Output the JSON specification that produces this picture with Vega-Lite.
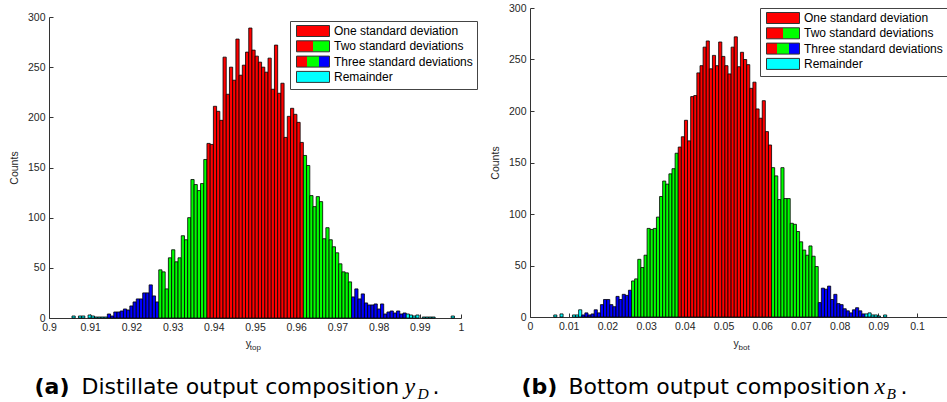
{
  "$schema": "https://vega.github.io/schema/vega-lite/v6.json",
  "background": "white",
  "padding": {"left": 9, "top": 3, "right": 0, "bottom": 0},
  "bounds": "flush",
  "spacing": 69,
  "config": {
    "view": {"stroke": null},
    "axis": {"grid": false, "domainColor": "#333333", "tickColor": "#333333", "labelColor": "#262626", "titleColor": "#262626", "labelFont": "Liberation Sans", "titleFont": "Liberation Sans", "labelFontSize": 10.5, "titleFontSize": 10.5, "titleFontWeight": "normal", "domainWidth": 1, "tickWidth": 1},
    "legend": {"title": null, "direction": "vertical", "fillColor": "white", "strokeColor": "#444444", "padding": 4, "symbolType": "M-3,-1H3V1H-3Z", "symbolSize": 121, "symbolOffset": 13, "symbolStrokeColor": "#333333", "symbolStrokeWidth": 1, "symbolOpacity": 1, "labelFont": "Liberation Sans", "labelFontSize": 12, "labelColor": "black", "labelOffset": 15, "labelLimit": 0, "rowPadding": -0.7}
  },
  "resolve": {"scale": {"x": "independent", "y": "independent", "color": "independent", "fill": "independent"}, "legend": {"color": "independent", "fill": "independent"}},
  "datasets": {
    "top": [
      {"lo":0.90546,"hi":0.90624,"count":2,"zone":"Remainder"},
      {"lo":0.90702,"hi":0.9078,"count":2,"zone":"Remainder"},
      {"lo":0.9078,"hi":0.90858,"count":2,"zone":"Remainder"},
      {"lo":0.90936,"hi":0.91014,"count":3,"zone":"Remainder"},
      {"lo":0.91014,"hi":0.91092,"count":2,"zone":"Remainder"},
      {"lo":0.91092,"hi":0.9117,"count":1,"zone":"Remainder"},
      {"lo":0.9117,"hi":0.91248,"count":1,"zone":"Remainder"},
      {"lo":0.91248,"hi":0.91326,"count":1,"zone":"Remainder"},
      {"lo":0.91326,"hi":0.91404,"count":1,"zone":"Remainder"},
      {"lo":0.91404,"hi":0.91482,"count":4,"zone":"Three standard deviations"},
      {"lo":0.91482,"hi":0.9156,"count":2,"zone":"Three standard deviations"},
      {"lo":0.9156,"hi":0.91638,"count":6,"zone":"Three standard deviations"},
      {"lo":0.91638,"hi":0.91716,"count":6,"zone":"Three standard deviations"},
      {"lo":0.91716,"hi":0.91794,"count":7,"zone":"Three standard deviations"},
      {"lo":0.91794,"hi":0.91872,"count":9,"zone":"Three standard deviations"},
      {"lo":0.91872,"hi":0.9195,"count":8,"zone":"Three standard deviations"},
      {"lo":0.9195,"hi":0.92028,"count":12,"zone":"Three standard deviations"},
      {"lo":0.92028,"hi":0.92106,"count":16,"zone":"Three standard deviations"},
      {"lo":0.92106,"hi":0.92184,"count":19,"zone":"Three standard deviations"},
      {"lo":0.92184,"hi":0.92262,"count":19,"zone":"Three standard deviations"},
      {"lo":0.92262,"hi":0.9234,"count":25,"zone":"Three standard deviations"},
      {"lo":0.9234,"hi":0.92418,"count":25,"zone":"Three standard deviations"},
      {"lo":0.92418,"hi":0.92496,"count":33,"zone":"Three standard deviations"},
      {"lo":0.92496,"hi":0.92574,"count":22,"zone":"Three standard deviations"},
      {"lo":0.92574,"hi":0.92652,"count":16,"zone":"Three standard deviations"},
      {"lo":0.92652,"hi":0.9273,"count":48,"zone":"Two standard deviations"},
      {"lo":0.9273,"hi":0.92808,"count":46,"zone":"Two standard deviations"},
      {"lo":0.92808,"hi":0.92886,"count":29,"zone":"Two standard deviations"},
      {"lo":0.92886,"hi":0.92964,"count":60,"zone":"Two standard deviations"},
      {"lo":0.92964,"hi":0.93042,"count":68,"zone":"Two standard deviations"},
      {"lo":0.93042,"hi":0.9312,"count":56,"zone":"Two standard deviations"},
      {"lo":0.9312,"hi":0.93198,"count":60,"zone":"Two standard deviations"},
      {"lo":0.93198,"hi":0.93276,"count":82,"zone":"Two standard deviations"},
      {"lo":0.93276,"hi":0.93354,"count":78,"zone":"Two standard deviations"},
      {"lo":0.93354,"hi":0.93432,"count":100,"zone":"Two standard deviations"},
      {"lo":0.93432,"hi":0.9351,"count":138,"zone":"Two standard deviations"},
      {"lo":0.9351,"hi":0.93588,"count":133,"zone":"Two standard deviations"},
      {"lo":0.93588,"hi":0.93666,"count":127,"zone":"Two standard deviations"},
      {"lo":0.93666,"hi":0.93744,"count":134,"zone":"Two standard deviations"},
      {"lo":0.93744,"hi":0.93822,"count":158,"zone":"Two standard deviations"},
      {"lo":0.93822,"hi":0.939,"count":174,"zone":"One standard deviation"},
      {"lo":0.939,"hi":0.93978,"count":173,"zone":"One standard deviation"},
      {"lo":0.93978,"hi":0.94056,"count":211,"zone":"One standard deviation"},
      {"lo":0.94056,"hi":0.94134,"count":206,"zone":"One standard deviation"},
      {"lo":0.94134,"hi":0.94212,"count":197,"zone":"One standard deviation"},
      {"lo":0.94212,"hi":0.9429,"count":260,"zone":"One standard deviation"},
      {"lo":0.9429,"hi":0.94368,"count":223,"zone":"One standard deviation"},
      {"lo":0.94368,"hi":0.94446,"count":250,"zone":"One standard deviation"},
      {"lo":0.94446,"hi":0.94524,"count":237,"zone":"One standard deviation"},
      {"lo":0.94524,"hi":0.94602,"count":278,"zone":"One standard deviation"},
      {"lo":0.94602,"hi":0.9468,"count":242,"zone":"One standard deviation"},
      {"lo":0.9468,"hi":0.94758,"count":252,"zone":"One standard deviation"},
      {"lo":0.94758,"hi":0.94836,"count":265,"zone":"One standard deviation"},
      {"lo":0.94836,"hi":0.94914,"count":289,"zone":"One standard deviation"},
      {"lo":0.94914,"hi":0.94992,"count":267,"zone":"One standard deviation"},
      {"lo":0.94992,"hi":0.9507,"count":261,"zone":"One standard deviation"},
      {"lo":0.9507,"hi":0.95148,"count":255,"zone":"One standard deviation"},
      {"lo":0.95148,"hi":0.95226,"count":250,"zone":"One standard deviation"},
      {"lo":0.95226,"hi":0.95304,"count":245,"zone":"One standard deviation"},
      {"lo":0.95304,"hi":0.95382,"count":259,"zone":"One standard deviation"},
      {"lo":0.95382,"hi":0.9546,"count":228,"zone":"One standard deviation"},
      {"lo":0.9546,"hi":0.95538,"count":272,"zone":"One standard deviation"},
      {"lo":0.95538,"hi":0.95616,"count":224,"zone":"One standard deviation"},
      {"lo":0.95616,"hi":0.95694,"count":234,"zone":"One standard deviation"},
      {"lo":0.95694,"hi":0.95772,"count":180,"zone":"One standard deviation"},
      {"lo":0.95772,"hi":0.9585,"count":201,"zone":"One standard deviation"},
      {"lo":0.9585,"hi":0.95928,"count":209,"zone":"One standard deviation"},
      {"lo":0.95928,"hi":0.96006,"count":203,"zone":"One standard deviation"},
      {"lo":0.96006,"hi":0.96084,"count":195,"zone":"One standard deviation"},
      {"lo":0.96084,"hi":0.96162,"count":175,"zone":"One standard deviation"},
      {"lo":0.96162,"hi":0.9624,"count":162,"zone":"Two standard deviations"},
      {"lo":0.9624,"hi":0.96318,"count":152,"zone":"Two standard deviations"},
      {"lo":0.96318,"hi":0.96396,"count":122,"zone":"Two standard deviations"},
      {"lo":0.96396,"hi":0.96474,"count":111,"zone":"Two standard deviations"},
      {"lo":0.96474,"hi":0.96552,"count":121,"zone":"Two standard deviations"},
      {"lo":0.96552,"hi":0.9663,"count":116,"zone":"Two standard deviations"},
      {"lo":0.9663,"hi":0.96708,"count":79,"zone":"Two standard deviations"},
      {"lo":0.96708,"hi":0.96786,"count":90,"zone":"Two standard deviations"},
      {"lo":0.96786,"hi":0.96864,"count":78,"zone":"Two standard deviations"},
      {"lo":0.96864,"hi":0.96942,"count":71,"zone":"Two standard deviations"},
      {"lo":0.96942,"hi":0.9702,"count":65,"zone":"Two standard deviations"},
      {"lo":0.9702,"hi":0.97098,"count":54,"zone":"Two standard deviations"},
      {"lo":0.97098,"hi":0.97176,"count":46,"zone":"Two standard deviations"},
      {"lo":0.97176,"hi":0.97254,"count":45,"zone":"Two standard deviations"},
      {"lo":0.97254,"hi":0.97332,"count":36,"zone":"Two standard deviations"},
      {"lo":0.97332,"hi":0.9741,"count":21,"zone":"Three standard deviations"},
      {"lo":0.9741,"hi":0.97488,"count":29,"zone":"Three standard deviations"},
      {"lo":0.97488,"hi":0.97566,"count":19,"zone":"Three standard deviations"},
      {"lo":0.97566,"hi":0.97644,"count":24,"zone":"Three standard deviations"},
      {"lo":0.97644,"hi":0.97722,"count":15,"zone":"Three standard deviations"},
      {"lo":0.97722,"hi":0.978,"count":13,"zone":"Three standard deviations"},
      {"lo":0.978,"hi":0.97878,"count":13,"zone":"Three standard deviations"},
      {"lo":0.97878,"hi":0.97956,"count":14,"zone":"Three standard deviations"},
      {"lo":0.97956,"hi":0.98034,"count":9,"zone":"Three standard deviations"},
      {"lo":0.98034,"hi":0.98112,"count":14,"zone":"Three standard deviations"},
      {"lo":0.98112,"hi":0.9819,"count":4,"zone":"Three standard deviations"},
      {"lo":0.9819,"hi":0.98268,"count":6,"zone":"Three standard deviations"},
      {"lo":0.98268,"hi":0.98346,"count":7,"zone":"Three standard deviations"},
      {"lo":0.98346,"hi":0.98424,"count":5,"zone":"Three standard deviations"},
      {"lo":0.98424,"hi":0.98502,"count":7,"zone":"Three standard deviations"},
      {"lo":0.98502,"hi":0.9858,"count":4,"zone":"Three standard deviations"},
      {"lo":0.9858,"hi":0.98658,"count":5,"zone":"Three standard deviations"},
      {"lo":0.98658,"hi":0.98736,"count":4,"zone":"Remainder"},
      {"lo":0.98736,"hi":0.98814,"count":3,"zone":"Remainder"},
      {"lo":0.98814,"hi":0.98892,"count":2,"zone":"Remainder"},
      {"lo":0.98892,"hi":0.9897,"count":3,"zone":"Remainder"},
      {"lo":0.99048,"hi":0.99126,"count":1,"zone":"Remainder"},
      {"lo":0.99126,"hi":0.99204,"count":1,"zone":"Remainder"},
      {"lo":0.99204,"hi":0.99282,"count":1,"zone":"Remainder"},
      {"lo":0.99282,"hi":0.9936,"count":1,"zone":"Remainder"},
      {"lo":0.9975,"hi":0.99828,"count":2,"zone":"Remainder"}
    ],
    "bot": [
      {"lo":0.00601,"hi":0.00681,"count":2,"zone":"Remainder"},
      {"lo":0.00762,"hi":0.00842,"count":3,"zone":"Remainder"},
      {"lo":0.01083,"hi":0.01164,"count":2,"zone":"Remainder"},
      {"lo":0.01164,"hi":0.01244,"count":2,"zone":"Remainder"},
      {"lo":0.01244,"hi":0.01325,"count":7,"zone":"Remainder"},
      {"lo":0.01325,"hi":0.01405,"count":2,"zone":"Three standard deviations"},
      {"lo":0.01405,"hi":0.01485,"count":4,"zone":"Three standard deviations"},
      {"lo":0.01485,"hi":0.01566,"count":2,"zone":"Three standard deviations"},
      {"lo":0.01566,"hi":0.01646,"count":3,"zone":"Three standard deviations"},
      {"lo":0.01646,"hi":0.01727,"count":7,"zone":"Three standard deviations"},
      {"lo":0.01727,"hi":0.01807,"count":4,"zone":"Three standard deviations"},
      {"lo":0.01807,"hi":0.01887,"count":12,"zone":"Three standard deviations"},
      {"lo":0.01887,"hi":0.01968,"count":17,"zone":"Three standard deviations"},
      {"lo":0.01968,"hi":0.02048,"count":17,"zone":"Three standard deviations"},
      {"lo":0.02048,"hi":0.02129,"count":12,"zone":"Three standard deviations"},
      {"lo":0.02129,"hi":0.02209,"count":10,"zone":"Three standard deviations"},
      {"lo":0.02209,"hi":0.02289,"count":20,"zone":"Three standard deviations"},
      {"lo":0.02289,"hi":0.0237,"count":17,"zone":"Three standard deviations"},
      {"lo":0.0237,"hi":0.0245,"count":22,"zone":"Three standard deviations"},
      {"lo":0.0245,"hi":0.02531,"count":21,"zone":"Three standard deviations"},
      {"lo":0.02531,"hi":0.02611,"count":26,"zone":"Three standard deviations"},
      {"lo":0.02611,"hi":0.02691,"count":35,"zone":"Two standard deviations"},
      {"lo":0.02691,"hi":0.02772,"count":37,"zone":"Two standard deviations"},
      {"lo":0.02772,"hi":0.02852,"count":56,"zone":"Two standard deviations"},
      {"lo":0.02852,"hi":0.02933,"count":48,"zone":"Two standard deviations"},
      {"lo":0.02933,"hi":0.03013,"count":60,"zone":"Two standard deviations"},
      {"lo":0.03013,"hi":0.03093,"count":86,"zone":"Two standard deviations"},
      {"lo":0.03093,"hi":0.03174,"count":85,"zone":"Two standard deviations"},
      {"lo":0.03174,"hi":0.03254,"count":86,"zone":"Two standard deviations"},
      {"lo":0.03254,"hi":0.03335,"count":97,"zone":"Two standard deviations"},
      {"lo":0.03335,"hi":0.03415,"count":117,"zone":"Two standard deviations"},
      {"lo":0.03415,"hi":0.03495,"count":132,"zone":"Two standard deviations"},
      {"lo":0.03495,"hi":0.03576,"count":129,"zone":"Two standard deviations"},
      {"lo":0.03576,"hi":0.03656,"count":139,"zone":"Two standard deviations"},
      {"lo":0.03656,"hi":0.03737,"count":144,"zone":"Two standard deviations"},
      {"lo":0.03737,"hi":0.03817,"count":159,"zone":"Two standard deviations"},
      {"lo":0.03817,"hi":0.03897,"count":165,"zone":"One standard deviation"},
      {"lo":0.03897,"hi":0.03978,"count":175,"zone":"One standard deviation"},
      {"lo":0.03978,"hi":0.04058,"count":191,"zone":"One standard deviation"},
      {"lo":0.04058,"hi":0.04139,"count":171,"zone":"One standard deviation"},
      {"lo":0.04139,"hi":0.04219,"count":214,"zone":"One standard deviation"},
      {"lo":0.04219,"hi":0.04299,"count":215,"zone":"One standard deviation"},
      {"lo":0.04299,"hi":0.0438,"count":237,"zone":"One standard deviation"},
      {"lo":0.0438,"hi":0.0446,"count":244,"zone":"One standard deviation"},
      {"lo":0.0446,"hi":0.04541,"count":262,"zone":"One standard deviation"},
      {"lo":0.04541,"hi":0.04621,"count":268,"zone":"One standard deviation"},
      {"lo":0.04621,"hi":0.04701,"count":241,"zone":"One standard deviation"},
      {"lo":0.04701,"hi":0.04782,"count":254,"zone":"One standard deviation"},
      {"lo":0.04782,"hi":0.04862,"count":244,"zone":"One standard deviation"},
      {"lo":0.04862,"hi":0.04943,"count":267,"zone":"One standard deviation"},
      {"lo":0.04943,"hi":0.05023,"count":253,"zone":"One standard deviation"},
      {"lo":0.05023,"hi":0.05103,"count":244,"zone":"One standard deviation"},
      {"lo":0.05103,"hi":0.05184,"count":236,"zone":"One standard deviation"},
      {"lo":0.05184,"hi":0.05264,"count":262,"zone":"One standard deviation"},
      {"lo":0.05264,"hi":0.05345,"count":272,"zone":"One standard deviation"},
      {"lo":0.05345,"hi":0.05425,"count":243,"zone":"One standard deviation"},
      {"lo":0.05425,"hi":0.05505,"count":257,"zone":"One standard deviation"},
      {"lo":0.05505,"hi":0.05586,"count":250,"zone":"One standard deviation"},
      {"lo":0.05586,"hi":0.05666,"count":245,"zone":"One standard deviation"},
      {"lo":0.05666,"hi":0.05747,"count":222,"zone":"One standard deviation"},
      {"lo":0.05747,"hi":0.05827,"count":228,"zone":"One standard deviation"},
      {"lo":0.05827,"hi":0.05907,"count":202,"zone":"One standard deviation"},
      {"lo":0.05907,"hi":0.05988,"count":193,"zone":"One standard deviation"},
      {"lo":0.05988,"hi":0.06068,"count":210,"zone":"One standard deviation"},
      {"lo":0.06068,"hi":0.06149,"count":180,"zone":"One standard deviation"},
      {"lo":0.06149,"hi":0.06229,"count":167,"zone":"One standard deviation"},
      {"lo":0.06229,"hi":0.06309,"count":145,"zone":"Two standard deviations"},
      {"lo":0.06309,"hi":0.0639,"count":137,"zone":"Two standard deviations"},
      {"lo":0.0639,"hi":0.0647,"count":114,"zone":"Two standard deviations"},
      {"lo":0.0647,"hi":0.06551,"count":145,"zone":"Two standard deviations"},
      {"lo":0.06551,"hi":0.06631,"count":115,"zone":"Two standard deviations"},
      {"lo":0.06631,"hi":0.06711,"count":115,"zone":"Two standard deviations"},
      {"lo":0.06711,"hi":0.06792,"count":91,"zone":"Two standard deviations"},
      {"lo":0.06792,"hi":0.06872,"count":90,"zone":"Two standard deviations"},
      {"lo":0.06872,"hi":0.06953,"count":83,"zone":"Two standard deviations"},
      {"lo":0.06953,"hi":0.07033,"count":73,"zone":"Two standard deviations"},
      {"lo":0.07033,"hi":0.07113,"count":65,"zone":"Two standard deviations"},
      {"lo":0.07113,"hi":0.07194,"count":60,"zone":"Two standard deviations"},
      {"lo":0.07194,"hi":0.07274,"count":69,"zone":"Two standard deviations"},
      {"lo":0.07274,"hi":0.07355,"count":59,"zone":"Two standard deviations"},
      {"lo":0.07355,"hi":0.07435,"count":49,"zone":"Two standard deviations"},
      {"lo":0.07435,"hi":0.07515,"count":14,"zone":"Three standard deviations"},
      {"lo":0.07515,"hi":0.07596,"count":28,"zone":"Three standard deviations"},
      {"lo":0.07596,"hi":0.07676,"count":27,"zone":"Three standard deviations"},
      {"lo":0.07676,"hi":0.07757,"count":30,"zone":"Three standard deviations"},
      {"lo":0.07757,"hi":0.07837,"count":17,"zone":"Three standard deviations"},
      {"lo":0.07837,"hi":0.07917,"count":22,"zone":"Three standard deviations"},
      {"lo":0.07917,"hi":0.07998,"count":13,"zone":"Three standard deviations"},
      {"lo":0.07998,"hi":0.08078,"count":12,"zone":"Three standard deviations"},
      {"lo":0.08078,"hi":0.08159,"count":8,"zone":"Three standard deviations"},
      {"lo":0.08159,"hi":0.08239,"count":6,"zone":"Three standard deviations"},
      {"lo":0.08239,"hi":0.08319,"count":4,"zone":"Three standard deviations"},
      {"lo":0.08319,"hi":0.084,"count":7,"zone":"Three standard deviations"},
      {"lo":0.084,"hi":0.0848,"count":9,"zone":"Three standard deviations"},
      {"lo":0.0848,"hi":0.08561,"count":6,"zone":"Three standard deviations"},
      {"lo":0.08561,"hi":0.08641,"count":3,"zone":"Three standard deviations"},
      {"lo":0.08641,"hi":0.08721,"count":3,"zone":"Remainder"},
      {"lo":0.08721,"hi":0.08802,"count":4,"zone":"Remainder"},
      {"lo":0.08802,"hi":0.08882,"count":2,"zone":"Remainder"},
      {"lo":0.08882,"hi":0.08963,"count":2,"zone":"Remainder"},
      {"lo":0.08963,"hi":0.09043,"count":1,"zone":"Remainder"},
      {"lo":0.09123,"hi":0.09204,"count":2,"zone":"Remainder"}
    ]
  },
  "hconcat": [
    {
      "width": 412,
      "height": 310,
      "data": {"name": "top"},
      "encoding": {
        "x": {
          "field": "lo", "type": "quantitative", "bin": "binned",
          "scale": {"domain": [0.9, 1.0], "nice": false, "zero": false},
          "axis": {
            "values": [0.9, 0.91, 0.92, 0.93, 0.94, 0.95, 0.96, 0.97, 0.98, 0.99, 1, 0.90001, 0.90777, 0.94765, 0.94862, 0.98617, 0.98932, 0.99296],
            "title": null,
            "tickSize": -4,
            "labelOverlap": false, "labelBound": false, "labelFlush": false, "labelLimit": 0,
            "labelExpr": "datum.value === 0.90001 ? '(a)' : datum.value === 0.90777 ? 'Distillate output composition' : datum.value === 0.98617 ? 'y' : datum.value === 0.98932 ? 'D' : datum.value === 0.99296 ? '.' : datum.value === 0.94765 ? 'y' : datum.value === 0.94862 ? 'top' : format(datum.value, '~g')",
            "tickOpacity": {"condition": {"test": "abs(datum.value*100 - round(datum.value*100)) > 0.0001", "value": 0}, "value": 1},
            "labelAlign": {"condition": {"test": "abs(datum.value*100 - round(datum.value*100)) > 0.0001", "value": "left"}, "value": "center"},
            "labelBaseline": {"condition": {"test": "abs(datum.value*100 - round(datum.value*100)) > 0.0001", "value": "alphabetic"}, "value": "top"},
            "labelColor": {"condition": {"test": "datum.value === 0.90001 || datum.value === 0.90777 || datum.value === 0.98617 || datum.value === 0.98932 || datum.value === 0.99296", "value": "black"}, "value": "#262626"},
            "labelFont": {"condition": [{"test": "datum.value === 0.98617 || datum.value === 0.98932", "value": "Liberation Serif"}, {"test": "datum.value === 0.90001 || datum.value === 0.90777 || datum.value === 0.99296", "value": "DejaVu Sans"}], "value": "Liberation Sans"},
            "labelFontSize": {"condition": [{"test": "datum.value === 0.90001 || datum.value === 0.90777 || datum.value === 0.99296", "value": 22}, {"test": "datum.value === 0.98617", "value": 24}, {"test": "datum.value === 0.98932", "value": 15.5}, {"test": "datum.value === 0.94862", "value": 8}], "value": 10.5},
            "labelFontStyle": {"condition": {"test": "datum.value === 0.98617 || datum.value === 0.98932", "value": "italic"}, "value": "normal"},
            "labelFontWeight": {"condition": {"test": "datum.value === 0.90001", "value": "bold"}, "value": "normal"},
            "labelPadding": {"condition": [{"test": "datum.value === 0.98932", "value": 84}, {"test": "datum.value === 0.94765", "value": 32}, {"test": "datum.value === 0.94862", "value": 35}, {"test": "abs(datum.value*100 - round(datum.value*100)) > 0.0001", "value": 79}], "value": 8},
            "labelOffset": {"condition": {"test": "datum.value === 0.90001", "value": -15}, "value": 0}
          }
        },
        "x2": {"field": "hi"},
        "y": {
          "field": "count", "type": "quantitative",
          "scale": {"domain": [0, 300], "range": [310, 9], "nice": false},
          "axis": {"values": [0, 50, 100, 150, 200, 250, 300], "title": "Counts", "tickSize": -4, "labelPadding": 8, "titlePadding": 8, "labelFlush": false, "labelOverlap": false}
        }
      },
      "layer": [
        {
          "mark": {"type": "bar", "stroke": "black", "strokeWidth": 0.8, "binSpacing": 0},
          "encoding": {
            "color": {
              "field": "zone", "type": "nominal",
              "scale": {"domain": ["Remainder", "Three standard deviations", "Two standard deviations", "One standard deviation"], "range": ["#00ffff", "#0000ff", "#00ff00", "#ff0000"]},
              "legend": null
            }
          }
        },
        {
          "mark": {"type": "bar", "opacity": 0, "binSpacing": 0},
          "encoding": {
            "fill": {
              "field": "zone", "type": "nominal",
              "scale": {"domain": ["One standard deviation", "Two standard deviations", "Three standard deviations", "Remainder"], "range": ["#ff0000", {"expr": "{gradient: 'linear', x1: 0, y1: 0, x2: 1, y2: 0, stops: [{offset: 0, color: '#ff0000'}, {offset: 0.5, color: '#ff0000'}, {offset: 0.5, color: '#00ff00'}, {offset: 1, color: '#00ff00'}]}"}, {"expr": "{gradient: 'linear', x1: 0, y1: 0, x2: 1, y2: 0, stops: [{offset: 0, color: '#ff0000'}, {offset: 0.333, color: '#ff0000'}, {offset: 0.333, color: '#00ff00'}, {offset: 0.667, color: '#00ff00'}, {offset: 0.667, color: '#0000ff'}, {offset: 1, color: '#0000ff'}]}"}, "#00ffff"]},
              "legend": {"orient": "none", "legendX": 241, "legendY": 13}
            }
          }
        }
      ]
    },
    {
      "width": 417,
      "height": 309,
      "data": {"name": "bot"},
      "encoding": {
        "x": {
          "field": "lo", "type": "quantitative", "bin": "binned",
          "scale": {"domain": [0, 0.10775], "nice": false, "zero": false},
          "axis": {
            "values": [0, 0.01, 0.02, 0.03, 0.04, 0.05, 0.06, 0.07, 0.08, 0.09, 0.1, 0.00001, 0.00982, 0.05245, 0.05375, 0.08889, 0.09199, 0.09561],
            "title": null,
            "tickSize": -4,
            "labelOverlap": false, "labelBound": false, "labelFlush": false, "labelLimit": 0,
            "labelExpr": "datum.value === 0.00001 ? '(b)' : datum.value === 0.00982 ? 'Bottom output composition' : datum.value === 0.08889 ? 'x' : datum.value === 0.09199 ? 'B' : datum.value === 0.09561 ? '.' : datum.value === 0.05245 ? 'y' : datum.value === 0.05375 ? 'bot' : format(datum.value, '~g')",
            "tickOpacity": {"condition": {"test": "abs(datum.value*100 - round(datum.value*100)) > 0.0001", "value": 0}, "value": 1},
            "labelAlign": {"condition": {"test": "abs(datum.value*100 - round(datum.value*100)) > 0.0001", "value": "left"}, "value": "center"},
            "labelBaseline": {"condition": {"test": "abs(datum.value*100 - round(datum.value*100)) > 0.0001", "value": "alphabetic"}, "value": "top"},
            "labelColor": {"condition": {"test": "datum.value === 0.00001 || datum.value === 0.00982 || datum.value === 0.08889 || datum.value === 0.09199 || datum.value === 0.09561", "value": "black"}, "value": "#262626"},
            "labelFont": {"condition": [{"test": "datum.value === 0.08889 || datum.value === 0.09199", "value": "Liberation Serif"}, {"test": "datum.value === 0.00001 || datum.value === 0.00982 || datum.value === 0.09561", "value": "DejaVu Sans"}], "value": "Liberation Sans"},
            "labelFontSize": {"condition": [{"test": "datum.value === 0.00001 || datum.value === 0.00982 || datum.value === 0.09561", "value": 22}, {"test": "datum.value === 0.08889", "value": 24}, {"test": "datum.value === 0.09199", "value": 15.5}, {"test": "datum.value === 0.05375", "value": 8}], "value": 10.5},
            "labelFontStyle": {"condition": {"test": "datum.value === 0.08889 || datum.value === 0.09199", "value": "italic"}, "value": "normal"},
            "labelFontWeight": {"condition": {"test": "datum.value === 0.00001", "value": "bold"}, "value": "normal"},
            "labelPadding": {"condition": [{"test": "datum.value === 0.09199", "value": 85}, {"test": "datum.value === 0.05245", "value": 33}, {"test": "datum.value === 0.05375", "value": 36}, {"test": "abs(datum.value*100 - round(datum.value*100)) > 0.0001", "value": 80}], "value": 8},
            "labelOffset": {"condition": {"test": "datum.value === 0.00001", "value": -9}, "value": 0}
          }
        },
        "x2": {"field": "hi"},
        "y": {
          "field": "count", "type": "quantitative",
          "scale": {"domain": [0, 300], "nice": false},
          "axis": {"values": [0, 50, 100, 150, 200, 250, 300], "title": "Counts", "tickSize": -4, "labelPadding": 8, "titlePadding": 8, "labelFlush": false, "labelOverlap": false}
        }
      },
      "layer": [
        {
          "mark": {"type": "bar", "stroke": "black", "strokeWidth": 0.8, "binSpacing": 0},
          "encoding": {
            "color": {
              "field": "zone", "type": "nominal",
              "scale": {"domain": ["Remainder", "Three standard deviations", "Two standard deviations", "One standard deviation"], "range": ["#00ffff", "#0000ff", "#00ff00", "#ff0000"]},
              "legend": null
            }
          }
        },
        {
          "mark": {"type": "bar", "opacity": 0, "binSpacing": 0},
          "encoding": {
            "fill": {
              "field": "zone", "type": "nominal",
              "scale": {"domain": ["One standard deviation", "Two standard deviations", "Three standard deviations", "Remainder"], "range": ["#ff0000", {"expr": "{gradient: 'linear', x1: 0, y1: 0, x2: 1, y2: 0, stops: [{offset: 0, color: '#ff0000'}, {offset: 0.5, color: '#ff0000'}, {offset: 0.5, color: '#00ff00'}, {offset: 1, color: '#00ff00'}]}"}, {"expr": "{gradient: 'linear', x1: 0, y1: 0, x2: 1, y2: 0, stops: [{offset: 0, color: '#ff0000'}, {offset: 0.333, color: '#ff0000'}, {offset: 0.333, color: '#00ff00'}, {offset: 0.667, color: '#00ff00'}, {offset: 0.667, color: '#0000ff'}, {offset: 1, color: '#0000ff'}]}"}, "#00ffff"]},
              "legend": {"orient": "none", "legendX": 230, "legendY": 0}
            }
          }
        }
      ]
    }
  ]
}
